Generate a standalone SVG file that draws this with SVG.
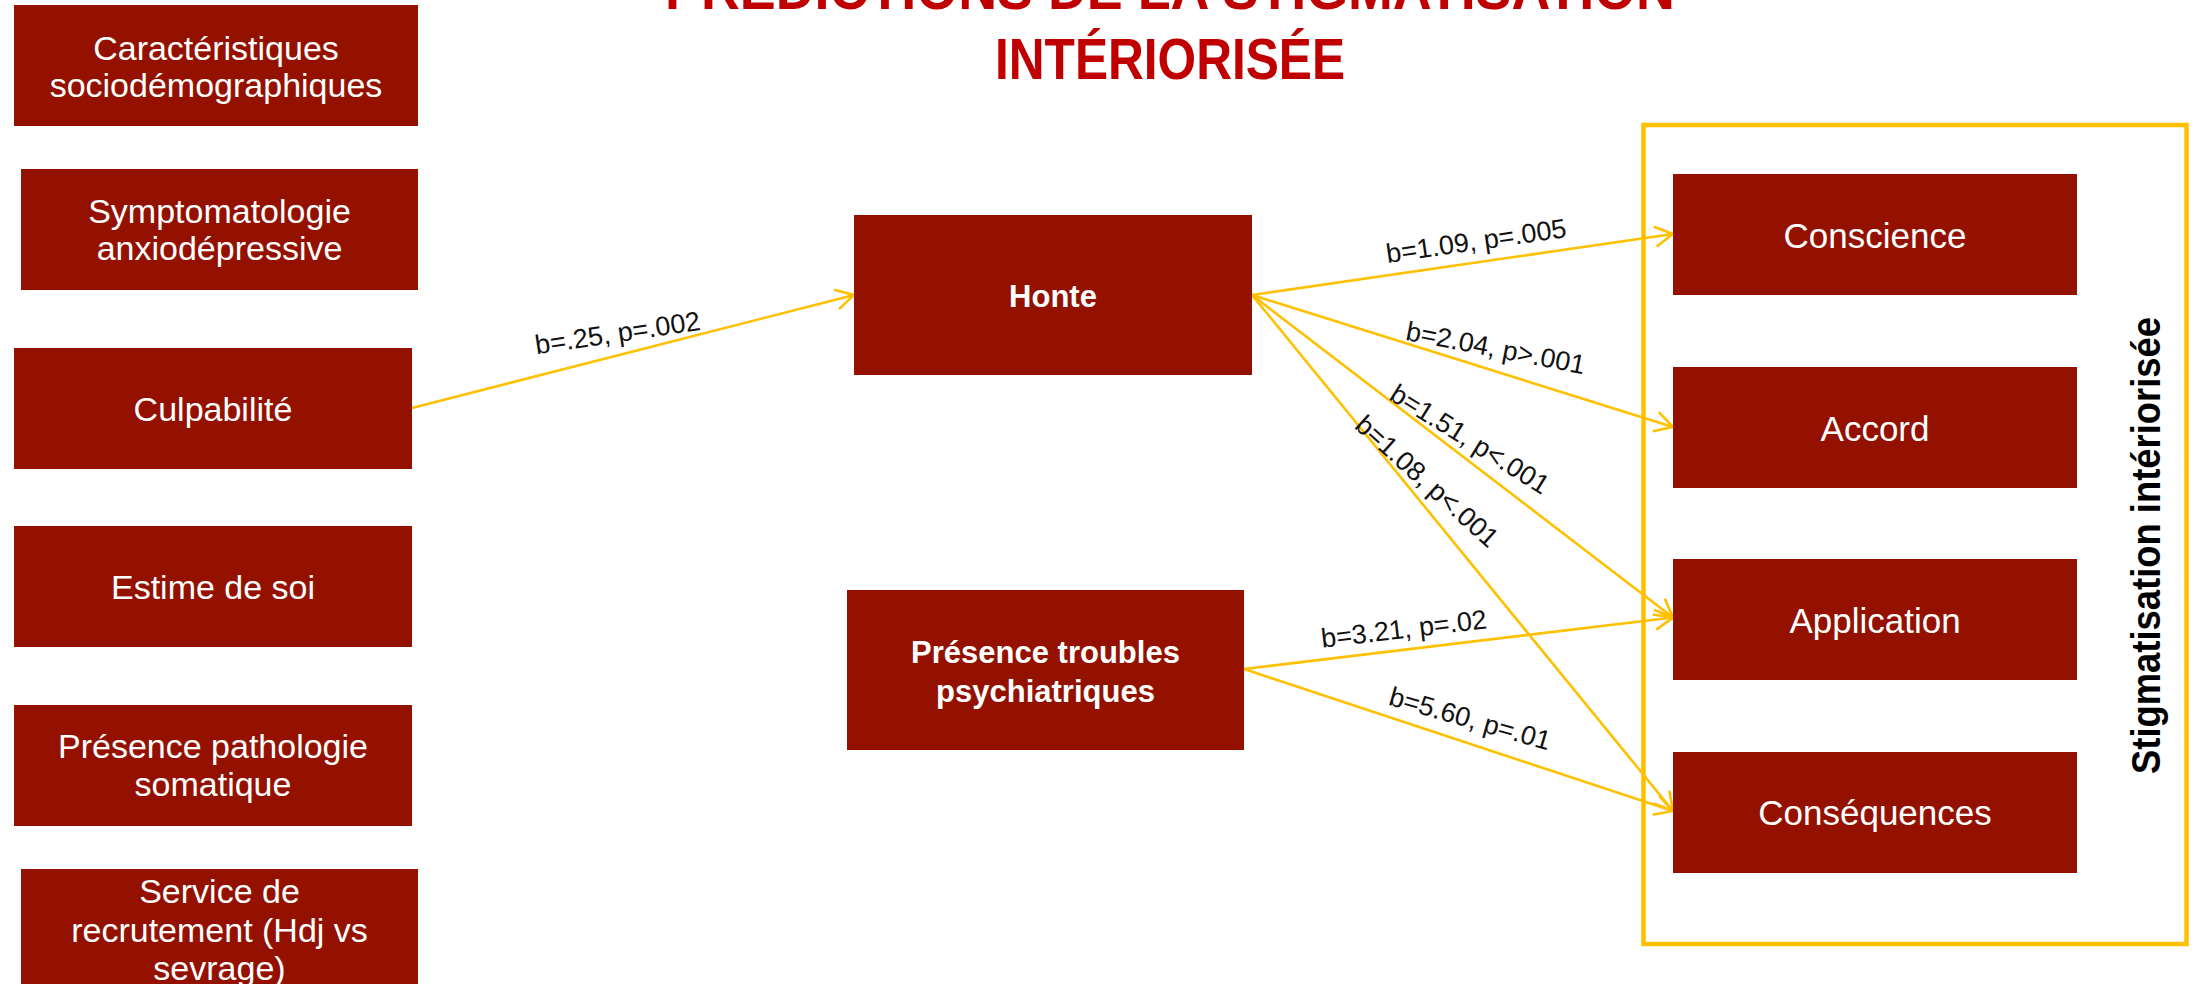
<svg xmlns="http://www.w3.org/2000/svg" width="2200" height="984" viewBox="0 0 2200 984">
<defs>
<style>
.box{fill:#941100}
.t{font-family:"Liberation Sans",Arial,sans-serif;fill:#fff;text-anchor:middle;font-size:34px}
.tr{font-family:"Liberation Sans",Arial,sans-serif;fill:#fff;text-anchor:middle;font-size:35px}
.tb{font-family:"Liberation Sans",Arial,sans-serif;fill:#fff;text-anchor:middle;font-size:31px;font-weight:bold}
.title{font-family:"Liberation Sans",Arial,sans-serif;fill:#C00000;text-anchor:middle;font-size:58px;font-weight:bold}
.lbl{font-family:"Liberation Sans",Arial,sans-serif;fill:#111;text-anchor:middle;font-size:27px}
.con{stroke:#FFC000;stroke-width:2.6;fill:none;marker-end:url(#arr)}
</style>
<marker id="arr" markerUnits="userSpaceOnUse" markerWidth="30" markerHeight="30" viewBox="-25 -15 30 30" refX="0" refY="0" orient="auto" overflow="visible">
<path d="M-18,-10 L0,0 L-18,10" fill="none" stroke="#FFC000" stroke-width="2.6"/>
</marker>
</defs>
<rect width="2200" height="984" fill="#fff"/>
<g id="title">
<text class="title" x="1170" y="9" textLength="1010" lengthAdjust="spacingAndGlyphs">PRÉDICTIONS DE LA STIGMATISATION</text>
<text class="title" x="1170" y="79" textLength="350" lengthAdjust="spacingAndGlyphs">INTÉRIORISÉE</text>
</g>
<g id="frame">
<rect x="1643.5" y="125" width="543" height="819" fill="none" stroke="#FFC000" stroke-width="4.5"/>
<text x="2160" y="545.5" transform="rotate(-90 2160 545.5)" text-anchor="middle" font-family="'Liberation Sans',Arial,sans-serif" font-weight="bold" font-size="40" fill="#000" textLength="457" lengthAdjust="spacingAndGlyphs">Stigmatisation intériorisée</text>
</g>
<g id="connectors">
<path class="con" d="M412,408 L854,295"/>
<path class="con" d="M1252,295 L1673,234"/>
<path class="con" d="M1252,295 L1673,427"/>
<path class="con" d="M1252,295 L1673,617.5"/>
<path class="con" d="M1252,295 L1673,811"/>
<path class="con" d="M1244,669 L1673,617.5"/>
<path class="con" d="M1244,669 L1673,811"/>
<text class="lbl" transform="translate(619,342) rotate(-8.5)">b=.25, p=.002</text>
<text class="lbl" transform="translate(1477.5,250) rotate(-8.2)">b=1.09, p=.005</text>
<text class="lbl" transform="translate(1494,357) rotate(11)">b=2.04, p&gt;.001</text>
<text class="lbl" transform="translate(1465,447) rotate(32)">b=1.51, p&lt;.001</text>
<text class="lbl" transform="translate(1421,488) rotate(42)">b=1.08, p&lt;.001</text>
<text class="lbl" transform="translate(1405,638) rotate(-6.8)">b=3.21, p=.02</text>
<text class="lbl" transform="translate(1467.5,727.5) rotate(16)">b=5.60, p=.01</text>
</g>
<g id="n1"><rect class="box" x="14" y="5" width="404" height="121"/><text class="t" x="216" y="60">Caractéristiques</text><text class="t" x="216" y="97">sociodémographiques</text></g>
<g id="n2"><rect class="box" x="21" y="169" width="397" height="121"/><text class="t" x="219.5" y="223">Symptomatologie</text><text class="t" x="219.5" y="260">anxiodépressive</text></g>
<g id="n3"><rect class="box" x="14" y="348" width="398" height="121"/><text class="t" x="213" y="421">Culpabilité</text></g>
<g id="n4"><rect class="box" x="14" y="526" width="398" height="121"/><text class="t" x="213" y="599">Estime de soi</text></g>
<g id="n5"><rect class="box" x="14" y="705" width="398" height="121"/><text class="t" x="213" y="758">Présence pathologie</text><text class="t" x="213" y="796">somatique</text></g>
<g id="n6"><rect class="box" x="21" y="869" width="397" height="125"/><text class="t" x="219.5" y="903">Service de</text><text class="t" x="219.5" y="942">recrutement (Hdj vs</text><text class="t" x="219.5" y="980">sevrage)</text></g>
<g id="honte"><rect class="box" x="854" y="215" width="398" height="160"/><text class="tb" x="1053" y="307">Honte</text></g>
<g id="presence"><rect class="box" x="847" y="590" width="397" height="160"/><text class="tb" x="1045.5" y="663">Présence troubles</text><text class="tb" x="1045.5" y="702">psychiatriques</text></g>
<g id="conscience"><rect class="box" x="1673" y="174" width="404" height="121"/><text class="tr" x="1875" y="248">Conscience</text></g>
<g id="accord"><rect class="box" x="1673" y="367" width="404" height="121"/><text class="tr" x="1875" y="441">Accord</text></g>
<g id="application"><rect class="box" x="1673" y="559" width="404" height="121"/><text class="tr" x="1875" y="633">Application</text></g>
<g id="consequences"><rect class="box" x="1673" y="752" width="404" height="121"/><text class="tr" x="1875" y="825">Conséquences</text></g>
</svg>
